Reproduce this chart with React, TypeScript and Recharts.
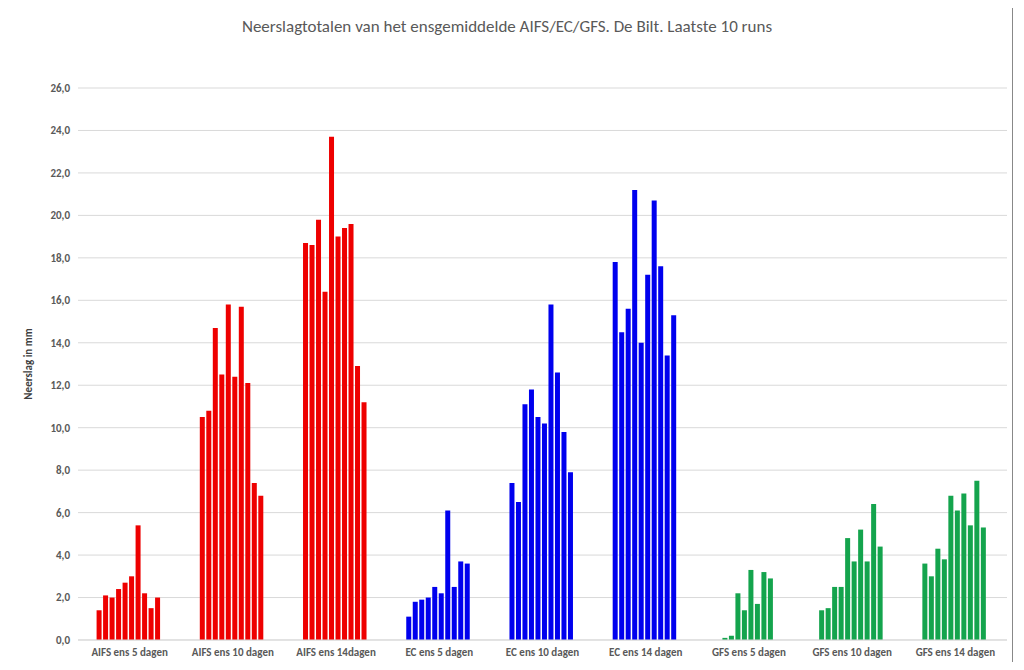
import { BarChart, Bar, XAxis, YAxis, CartesianGrid, Cell } from 'recharts';

const categories = [
  'AIFS ens 5 dagen', 'AIFS ens 10 dagen', 'AIFS ens 14dagen',
  'EC ens 5 dagen', 'EC ens 10 dagen', 'EC ens 14 dagen',
  'GFS ens 5 dagen', 'GFS ens 10 dagen', 'GFS ens 14 dagen',
];

// 10 runs per category
const aifs5 = [1.4, 2.1, 2.0, 2.4, 2.7, 3.0, 5.4, 2.2, 1.5, 2.0];
const aifs10 = [10.5, 10.8, 14.7, 12.5, 15.8, 12.4, 15.7, 12.1, 7.4, 6.8];
const aifs14 = [18.7, 18.6, 19.8, 16.4, 23.7, 19.0, 19.4, 19.6, 12.9, 11.2];
const ec5 = [1.1, 1.8, 1.9, 2.0, 2.5, 2.2, 6.1, 2.5, 3.7, 3.6];
const ec10 = [7.4, 6.5, 11.1, 11.8, 10.5, 10.2, 15.8, 12.6, 9.8, 7.9];
const ec14 = [17.8, 14.5, 15.6, 21.2, 14.0, 17.2, 20.7, 17.6, 13.4, 15.3];
const gfs5 = [0, 0.1, 0.2, 2.2, 1.4, 3.3, 1.7, 3.2, 2.9, 0];
const gfs10 = [1.4, 1.5, 2.5, 2.5, 4.8, 3.7, 5.2, 3.7, 6.4, 4.4];
const gfs14 = [3.6, 3.0, 4.3, 3.8, 6.8, 6.1, 6.9, 5.4, 7.5, 5.3];

const rows = [aifs5, aifs10, aifs14, ec5, ec10, ec14, gfs5, gfs10, gfs14];
const colors = ['#ee0000', '#ee0000', '#ee0000', '#0000ee', '#0000ee', '#0000ee', '#14a44d', '#14a44d', '#14a44d'];
const yTicks = [0, 2, 4, 6, 8, 10, 12, 14, 16, 18, 20, 22, 24, 26];
const runs = [0, 1, 2, 3, 4, 5, 6, 7, 8, 9];

const data = categories.map((name, i) => {
  const row: Record<string, number | string> = { name };
  rows[i].forEach((v, r) => { row[`r${r}`] = v; });
  return row;
});

export default function App() {
  return (
    <div style={{ width: 1010, height: 666, border: '1px solid #888', background: '#fff', position: 'relative', fontFamily: 'Calibri, Carlito, "Liberation Sans", Arial, sans-serif', margin: -7 }}>
      <div style={{ position: 'absolute', top: 14, width: '100%', textAlign: 'center', fontSize: 17, color: '#595959' }}>
        Neerslagtotalen van het ensgemiddelde AIFS/EC/GFS. De Bilt. Laatste 10 runs
      </div>
      <BarChart width={1007} height={666} data={data} margin={{ top: 86, right: 2, left: 16, bottom: 0 }}
        barCategoryGap="18%" barGap={1.5}>
        <CartesianGrid vertical={false} stroke="#d9d9d9" />
        <XAxis dataKey="name" tickLine={false} axisLine={{ stroke: '#d9d9d9' }} interval={0} height={28}
          tick={{ fontSize: 11, fontWeight: 700, fill: '#595959' }} />
        <YAxis domain={[0, 26]} ticks={yTicks} axisLine={false} tickLine={false} width={60}
          tickFormatter={(v: number) => v.toFixed(1).replace('.', ',')}
          tick={{ fontSize: 11, fontWeight: 700, fill: '#595959' }}
          label={{ value: 'Neerslag in mm', angle: -90, position: 'insideLeft', offset: 10, style: { fontSize: 11, fontWeight: 700, fill: '#404040', textAnchor: 'middle' } }} />
        {runs.map((r) => (
          <Bar key={r} dataKey={`r${r}`} isAnimationActive={false}>
            {data.map((_, i) => <Cell key={i} fill={colors[i]} />)}
          </Bar>
        ))}
      </BarChart>
    </div>
  );
}
